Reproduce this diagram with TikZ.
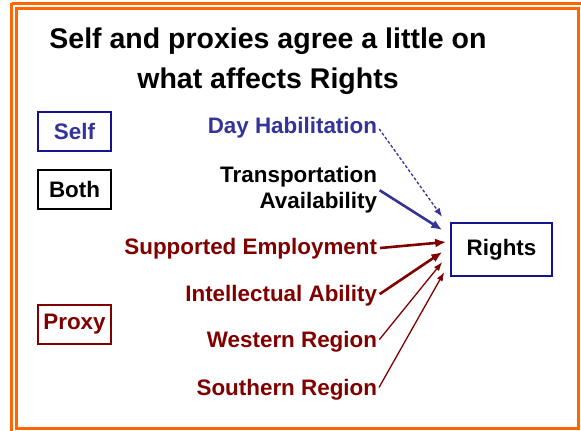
\documentclass[tikz,border=0pt]{standalone}
\usepackage{fontspec}
\setmainfont{Liberation Sans}
\usetikzlibrary{arrows.meta,calc}

\definecolor{frameorange}{RGB}{255,102,0}
\definecolor{selfblue}{RGB}{51,51,153}
\definecolor{boxblue}{RGB}{20,20,140}
\definecolor{proxyred}{RGB}{128,0,0}

\begin{document}
\begin{tikzpicture}[x=1pt,y=1pt,yscale=-1,xscale=1,
  lbl/.style={font=\fontsize{22.4}{26}\selectfont\bfseries, inner sep=0.75pt},
  keybox/.style={lbl, draw, line width=1.3, minimum width=73, minimum height=39},
  bigarrow/.style={line width=2.6, -{Latex[length=11,width=9]}, shorten <=2},
  thinarrow/.style={line width=1.3, -{Latex[length=9,width=6.5]}, shorten <=2}]
\path[use as bounding box] (0,0) rectangle (581,431);

%Frame: double orange border
\draw[frameorange, line width=3] (11.5,3) -- (585,3);
\draw[frameorange, line width=3] (11.5,3) -- (11.5,435);
\draw[frameorange, line width=3] (16,8.5) rectangle (578.5,428);

% Title
\node[font=\fontsize{28.5}{40}\selectfont\bfseries, align=center, inner sep=0] (title) at (268,61.5)
  {Self and proxies agree a little on\\what affects Rights};

% Key boxes
\node[keybox, draw=boxblue, text=selfblue] (self) at (74.5,131.5) {Self};
\node[keybox, draw=black, text=black] (both) at (74.5,189.5) {Both};
\node[keybox, draw=proxyred, text=proxyred] (proxy) at (74.5,324.5) {Proxy};

% Outcome
\node[lbl, draw=boxblue, line width=1.5, minimum width=101, minimum height=53] (rights) at (501.5,249.5) {Rights};

% Predictors
\node[lbl, anchor=base east, text=selfblue] (dayhab) at (378,133) {Day Habilitation};
\node[lbl, anchor=base east, align=right, text=black] (transport) at (378,208) {Transportation\\Availability};
\node[lbl, anchor=base east, text=proxyred] (suppemp) at (378,254) {Supported Employment};
\node[lbl, anchor=base east, text=proxyred] (intell) at (378,301) {Intellectual Ability};
\node[lbl, anchor=base east, text=proxyred] (western) at (378,347) {Western Region};
\node[lbl, anchor=base east, text=proxyred] (southern) at (378,395) {Southern Region};

% Paths into Rights
\draw[thinarrow, selfblue, dash pattern={on 3pt off 2pt}] (dayhab.east) -- ($(rights.west)+(-8,-32.5)$);
\draw[bigarrow, selfblue] (transport.east) -- ($(rights.west)+(-8,-19.5)$);
\draw[bigarrow, proxyred] (suppemp.east) -- ($(rights.west)+(-4,-7.5)$);
\draw[bigarrow, proxyred] (intell.east) -- ($(rights.west)+(-8,2.5)$);
\draw[thinarrow, proxyred] (western.east) -- ($(rights.west)+(-8,12.5)$);
\draw[thinarrow, proxyred] (southern.east) -- ($(rights.west)+(-6,22.5)$);

\end{tikzpicture}
\end{document}
